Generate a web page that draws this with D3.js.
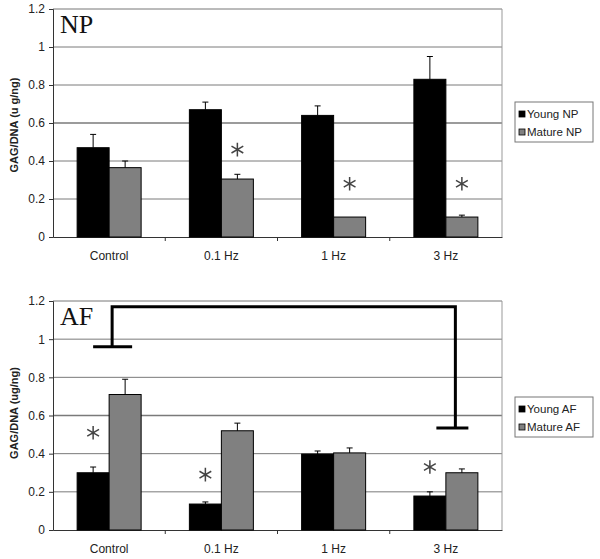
<!DOCTYPE html>
<html><head><meta charset="utf-8">
<script src="https://cdn.jsdelivr.net/npm/d3@7"></script>
<style>body{margin:0;background:#fff}svg{display:block}</style>
</head><body>
<svg id="c" width="600" height="559"></svg>
<script>
const categories = ["Control", "0.1 Hz", "1 Hz", "3 Hz"];
const yTicks = [0, 0.2, 0.4, 0.6, 0.8, 1, 1.2];
const yTickLabels = ["0", "0.2", "0.4", "0.6", "0.8", "1", "1.2"];

const npYoung = [0.47, 0.67, 0.64, 0.83];
const npYoungErr = [0.07, 0.04, 0.05, 0.12];
const npMature = [0.365, 0.305, 0.105, 0.105];
const npMatureErr = [0.035, 0.025, 0, 0.01];
const npStars = [null, 0.46, 0.28, 0.28];        // over mature bars

const afYoung = [0.30, 0.136, 0.398, 0.178];
const afYoungErr = [0.03, 0.011, 0.016, 0.022];
const afMature = [0.71, 0.52, 0.404, 0.30];
const afMatureErr = [0.08, 0.04, 0.026, 0.02];
const afStars = [0.51, 0.29, null, 0.33];        // over young bars
const afBracket = [1.17, 0.96, 0.535];           // top, left end, right end

const svg = d3.select("#c");
const C_YOUNG = "#000", C_MATURE = "#808080";

function panel(o) {
  const x = d3.scaleBand().domain(categories).range([53, 502]).padding(0);
  const y = d3.scaleLinear().domain([0, 1.2]).range([o.bottom, o.top]);
  const g = svg.append("g");
  const bw = 32;

  // gridlines
  g.selectAll(".grid").data(yTicks.filter(d => d > 0)).enter().append("line")
    .attr("x1", 53).attr("x2", 502)
    .attr("y1", d => y(d)).attr("y2", d => y(d))
    .attr("stroke", d => d === 1.2 ? "#777" : "#7a7a7a")
    .attr("stroke-width", d => d === 0.6 ? 1.6 : 1);
  // right border
  g.append("line").attr("x1", 502).attr("x2", 502).attr("y1", y(1.2)).attr("y2", y(0))
    .attr("stroke", "#999").attr("stroke-width", 1);

  // y axis
  const ya = d3.axisLeft(y).tickValues(yTicks).tickSize(4).tickPadding(4)
    .tickFormat((d, i) => yTickLabels[i]);
  const yg = g.append("g").attr("transform", "translate(53,0)").call(ya);
  yg.select(".domain").attr("stroke", "#333");
  yg.selectAll(".tick line").attr("stroke", "#333");
  yg.selectAll("text").attr("font-family", "Liberation Sans, Arial, sans-serif")
    .attr("font-size", 12).attr("fill", "#222");

  // x axis
  const xa = d3.axisBottom(x).tickSize(0).tickPadding(14);
  const xg = g.append("g").attr("transform", `translate(0,${y(0)})`).call(xa);
  xg.select(".domain").attr("stroke", "#333");
  xg.selectAll("text").attr("font-family", "Liberation Sans, Arial, sans-serif")
    .attr("font-size", 12).attr("fill", "#222");
  // band boundary ticks
  g.selectAll(".bt").data(categories.slice(1)).enter().append("line")
    .attr("x1", d => x(d)).attr("x2", d => x(d))
    .attr("y1", y(0)).attr("y2", y(0) + 4).attr("stroke", "#333");

  const cx = c => x(c) + x.bandwidth() / 2;
  const series = [
    {vals: o.young, err: o.youngErr, color: C_YOUNG, off: -bw},
    {vals: o.mature, err: o.matureErr, color: C_MATURE, off: 0}
  ];
  series.forEach(s => {
    const data = categories.map((c, i) => ({c, v: s.vals[i], e: s.err[i]}));
    g.selectAll(null).data(data).enter().append("rect")
      .attr("x", d => cx(d.c) + s.off).attr("width", bw)
      .attr("y", d => y(d.v)).attr("height", d => y(0) - y(d.v))
      .attr("fill", s.color).attr("stroke", "#000").attr("stroke-width", 1);
    const eb = data.filter(d => d.e > 0);
    g.selectAll(null).data(eb).enter().append("line")
      .attr("x1", d => cx(d.c) + s.off + bw / 2).attr("x2", d => cx(d.c) + s.off + bw / 2)
      .attr("y1", d => y(d.v)).attr("y2", d => y(d.v + d.e))
      .attr("stroke", "#000").attr("stroke-width", 1);
    g.selectAll(null).data(eb).enter().append("line")
      .attr("x1", d => cx(d.c) + s.off + bw / 2 - 3).attr("x2", d => cx(d.c) + s.off + bw / 2 + 3)
      .attr("y1", d => y(d.v + d.e)).attr("y2", d => y(d.v + d.e))
      .attr("stroke", "#000").attr("stroke-width", 1);
  });

  // stars
  const starOff = o.starOnMature ? bw / 2 : -bw / 2;
  const starData = categories.map((c, i) => ({c, v: o.stars[i]})).filter(d => d.v != null);
  g.selectAll(null).data(starData).enter().append("path")
    .attr("d", d3.symbol().type(d3.symbolAsterisk).size(130))
    .attr("transform", d => `translate(${cx(d.c) + starOff},${y(d.v)})`)
    .attr("fill", "none").attr("stroke", "#444").attr("stroke-width", 1.5);

  // panel title
  g.append("text").attr("x", 60).attr("y", o.top + 24).text(o.title)
    .attr("font-family", "Liberation Serif, Times New Roman, serif")
    .attr("font-size", 26).attr("fill", "#111");

  // y label
  g.append("text")
    .attr("transform", `translate(18,${o.labelCenter}) rotate(-90)`)
    .attr("text-anchor", "middle")
    .attr("font-family", "Liberation Sans, Arial, sans-serif")
    .attr("font-weight", "bold").attr("font-size", 11).attr("fill", "#222")
    .text(o.ylabel);

  // legend
  const L = g.append("g").attr("transform", `translate(515,${o.legendTop})`);
  L.append("rect").attr("width", 78).attr("height", 40)
    .attr("fill", "#fff").attr("stroke", "#777");
  o.legend.forEach((t, i) => {
    L.append("rect").attr("x", 4).attr("y", 9 + i * 18).attr("width", 6).attr("height", 6)
      .attr("fill", i === 0 ? C_YOUNG : C_MATURE).attr("stroke", "#000").attr("stroke-width", 0.8);
    L.append("text").attr("x", 12).attr("y", 16 + i * 18).text(t)
      .attr("font-family", "Liberation Sans, Arial, sans-serif")
      .attr("font-size", 11.5).attr("fill", "#222");
  });

  return {x, y, cx, g};
}

panel({top: 9, bottom: 237, title: "NP", ylabel: "GAG/DNA (u g/ng)", labelCenter: 125,
  young: npYoung, youngErr: npYoungErr, mature: npMature, matureErr: npMatureErr,
  stars: npStars, starOnMature: true, legend: ["Young NP", "Mature NP"], legendTop: 102});

const af = panel({top: 301, bottom: 530, title: "AF", ylabel: "GAG/DNA (ug/ng)", labelCenter: 413,
  young: afYoung, youngErr: afYoungErr, mature: afMature, matureErr: afMatureErr,
  stars: afStars, starOnMature: false, legend: ["Young AF", "Mature AF"], legendTop: 397});

// significance bracket
const bx1 = af.cx("Control") + 3, bx2 = af.cx("3 Hz") + 9.5;
const yb = af.y;
const bp = d3.path();
bp.moveTo(bx1, yb(afBracket[1])); bp.lineTo(bx1, yb(afBracket[0]));
bp.lineTo(bx2, yb(afBracket[0])); bp.lineTo(bx2, yb(afBracket[2]));
af.g.append("path").attr("d", bp.toString()).attr("fill", "none")
  .attr("stroke", "#000").attr("stroke-width", 3).attr("stroke-linejoin", "miter");
af.g.append("line").attr("x1", bx1 - 19).attr("x2", bx1 + 20)
  .attr("y1", yb(afBracket[1])).attr("y2", yb(afBracket[1]))
  .attr("stroke", "#000").attr("stroke-width", 3);
af.g.append("line").attr("x1", bx2 - 19).attr("x2", bx2 + 13)
  .attr("y1", yb(afBracket[2])).attr("y2", yb(afBracket[2]))
  .attr("stroke", "#000").attr("stroke-width", 3);
</script>
</body></html>
